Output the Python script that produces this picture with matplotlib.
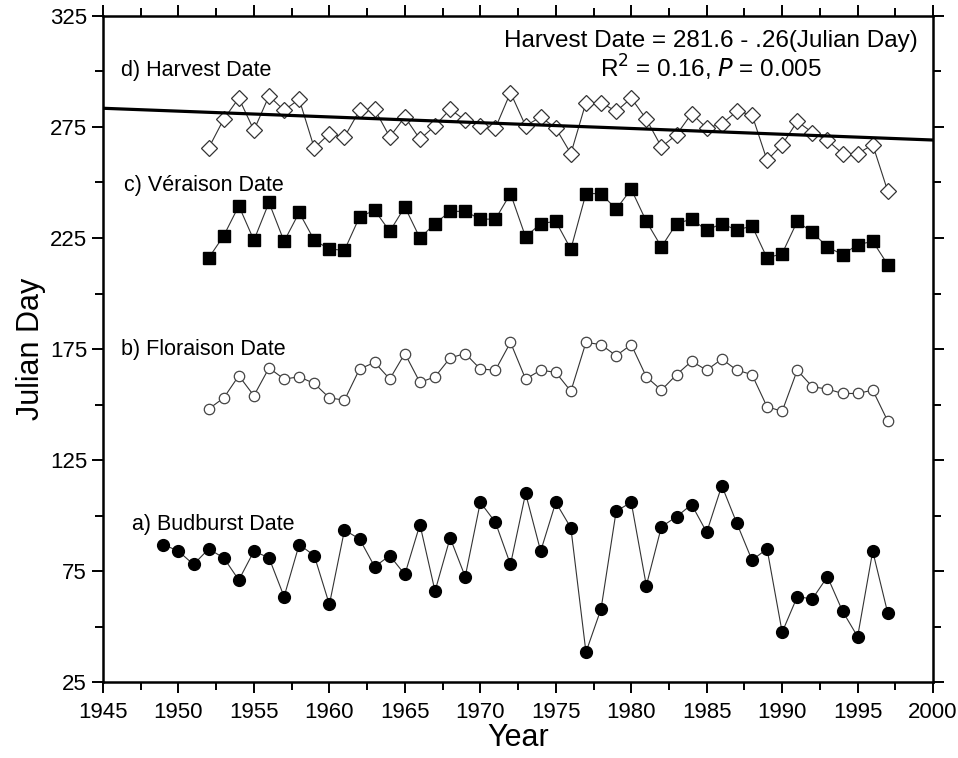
import matplotlib.pyplot as plt
import numpy as np
from matplotlib.ticker import MultipleLocator

plt.rcParams['font.family'] = ['Liberation Sans', 'DejaVu Sans']

budburst_years = list(range(1949, 1998))
budburst = [87, 84, 78, 85, 81, 71, 84, 81, 63.5, 87, 82, 60, 93.5, 89.5, 77, 82, 73.5, 96,
            66, 90, 72.5, 106, 97, 78, 110, 84, 106, 94.5, 38.5, 58, 102, 106, 68.5, 95,
            99.5, 105, 92.5, 113.5, 96.5, 80, 85, 47.5, 63.5, 62.5, 72.5, 57, 45.5, 84, 56]

phen_years = list(range(1952, 1998))
floraison = [148, 153, 163, 154, 166.5, 161.5, 162.5, 159.5, 153, 152, 166, 169, 161.5, 173,
             160, 162.5, 171, 173, 166, 165.5, 178, 161.5, 165.5, 164.5, 156, 178, 177, 172,
             177, 162.5, 156.5, 163.5, 169.5, 165.5, 170.5, 165.5, 163.5, 149, 147, 165.5,
             158, 157, 155, 155, 156.5, 142.5]
veraison = [216, 226, 239.5, 224, 241, 223.5, 236.5, 224, 220, 219.5, 234.5, 237.5, 228,
            239, 225, 231.5, 237, 237, 233.5, 233.5, 245, 225.5, 231.5, 232.5, 220, 245,
            245, 238, 247, 232.5, 221, 231.5, 233.5, 228.5, 231.5, 228.5, 230.5, 216, 218,
            232.5, 227.5, 221, 217.5, 222, 223.5, 213]
harvest = [265.5, 278.5, 288, 273.5, 289, 282.5, 287.5, 265.5, 272, 270.5, 282.5, 283, 270.5,
           279.5, 269.5, 275.5, 283, 278, 275.5, 274.5, 290.5, 275.5, 279.5, 274.5, 263, 286,
           286, 282, 288, 278.5, 266, 271.5, 281, 274.5, 276.5, 282, 280.5, 260, 267, 277.5,
           272.5, 269, 263, 263, 267, 246]

y_major = [25, 75, 125, 175, 225, 275, 325]
y_minor = [50, 100, 150, 200, 250, 300]

# harvest trend, x counted in years from 1952
trend_intercept = 281.6
trend_slope = -0.26
trend_x = np.array([1945, 2000])

fig = plt.figure(figsize=(9.58, 7.58), dpi=100)
ax = fig.add_axes([0.1075, 0.1, 0.8665, 0.879])

line_kw = dict(color='#333333', lw=0.8)
ax.plot(budburst_years, budburst, marker='o', ms=8.5, mfc='black', mec='black', **line_kw)
ax.plot(phen_years, floraison, marker='o', ms=7.5, mfc='white', mec='#444444', mew=0.9, **line_kw)
ax.plot(phen_years, veraison, marker='s', ms=9, mfc='black', mec='black', **line_kw)
ax.plot(phen_years, harvest, marker='D', ms=8, mfc='white', mec='#333333', mew=0.9, **line_kw)
ax.plot(trend_x, trend_intercept + trend_slope * (trend_x - 1952), color='black', lw=2.3)

ax.set_xlim(1945, 2000)
ax.set_ylim(25, 325)
ax.xaxis.set_major_locator(MultipleLocator(5))
ax.xaxis.set_minor_locator(MultipleLocator(2.5))
ax.set_yticks(y_major)
ax.set_yticks(y_minor, minor=True)
ax.tick_params(which='both', direction='out', width=1.4, top=True, right=True, labelsize=16)
ax.tick_params(which='major', length=8)
ax.tick_params(which='minor', length=6)
ax.tick_params(axis='x', pad=6)
for s in ax.spines.values():
    s.set_linewidth(1.8)

ax.set_xlabel('Year', fontsize=22, labelpad=0)
ax.set_ylabel('Julian Day', fontsize=22, labelpad=3)

lab = dict(fontsize=15.5, ha='left', va='center')
ax.text(1946.2, 300.5, 'd) Harvest Date', **lab)
ax.text(1946.4, 248.5, 'c) Véraison Date', **lab)
ax.text(1946.2, 175, 'b) Floraison Date', **lab)
ax.text(1946.9, 96, 'a) Budburst Date', **lab)
ax.text(1985.3, 313.7, 'Harvest Date = 281.6 - .26(Julian Day)', fontsize=17.5, ha='center', va='center')
ax.text(1985.3, 301.5, r'R$^{2}$ = 0.16, $\it{P}$ = 0.005', fontsize=17.5, ha='center', va='center')

fig.savefig('out.png', dpi=100)
